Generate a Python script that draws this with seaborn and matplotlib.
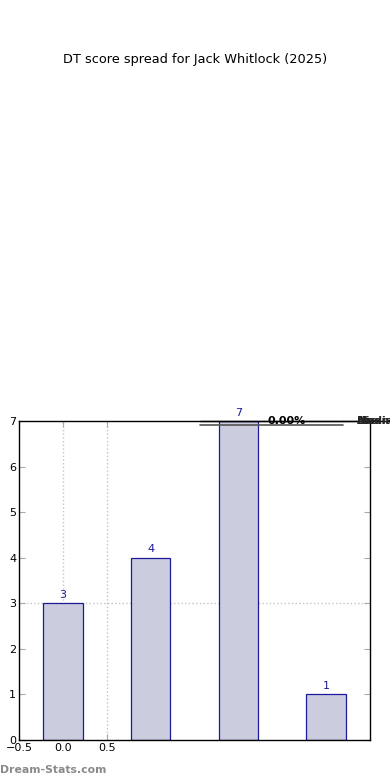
import matplotlib
matplotlib.use("Agg")
import pandas as pd
import seaborn as sns
import matplotlib.pyplot as plt

TITLE = "DT score spread for Jack Whitlock (2025)"
BINS = ["a", "b", "c", "d"]
COUNTS = [3, 4, 7, 1]
X_TICKS = [-0.5, 0.0, 0.5]
LEGEND_WORDS = ["Median", "Mean", "Ave", "Hi", "Lo"]

sns.set_style("white")
plt.rcParams["font.family"] = ["DejaVu Sans"]

df = pd.DataFrame({"bin": BINS, "count": COUNTS})

fig = plt.figure(figsize=(3.9, 7.8), dpi=100)
ax = fig.add_axes([0.0487, 0.0513, 0.9, 0.4090])

sns.barplot(data=df, x="bin", y="count", ax=ax, width=0.45,
            color="#ccccdf", edgecolor="#1a1a9a", linewidth=0.9, saturation=1)

for i, v in enumerate(COUNTS):
    ax.text(i, v + 0.07, str(v), ha="center", va="bottom", fontsize=8, color="#1a1a9a")

# dotted guide lines
for xv in [0.0, 0.5]:
    ax.axvline(xv, color="#c4c4c4", linestyle=":", linewidth=1, zorder=0)
ax.axhline(3, color="#c4c4c4", linestyle=":", linewidth=1, zorder=0)

ax.set_xlim(-0.5, 3.5)
ax.set_ylim(0, 7)
ax.set_xticks(X_TICKS)
ax.set_xticklabels([f"{t:.1f}".replace("-", "\u2212") for t in X_TICKS])
ax.set_yticks(range(0, 8))
ax.tick_params(direction="in", length=4, labelsize=8, pad=2, color="#aaaaaa",
               labelcolor="black", right=True, top=True, bottom=True, left=True)
ax.set_xlabel("")
ax.set_ylabel("")
for s in ax.spines.values():
    s.set_color("black")
    s.set_linewidth(1)

# collapsed stats table at the top right
fig.add_artist(plt.Line2D([200 / 390, 343 / 390], [1 - 421 / 780] * 2, color="black", lw=1))
fig.add_artist(plt.Line2D([200 / 390, 343 / 390], [1 - 425 / 780] * 2, color="#555555", lw=1.2))
fig.add_artist(plt.Line2D([343 / 390, 390 / 390], [1 - 421 / 780] * 2, color="black", lw=1))
fig.text(287 / 390, 1 - 421 / 780, "0.00%", ha="center", va="center", fontsize=8,
         color="black", fontweight="semibold")
for w in LEGEND_WORDS:
    fig.text(357 / 390, 1 - 421 / 780, w, ha="left", va="center", fontsize=7.5,
             fontweight="bold")

fig.text(0.5, 1 - 60 / 780, TITLE, ha="center", va="center", fontsize=9.3, color="black")
fig.text(0.0, 1 - 770 / 780, "Dream-Stats.com", ha="left", va="center",
         fontsize=7.8, color="#8a8a8a", fontweight="semibold")

fig.savefig("out.png", dpi=100)
